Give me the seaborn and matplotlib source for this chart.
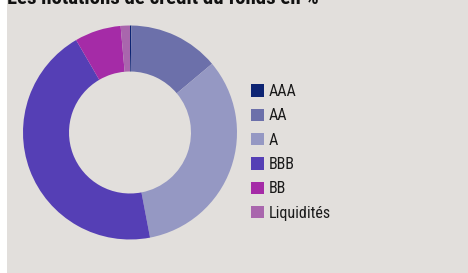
import matplotlib
matplotlib.use("Agg")
import matplotlib.pyplot as plt
import seaborn as sns
from matplotlib import font_manager
from matplotlib.patches import Patch, Rectangle

sns.set_theme(style="white")

# police etroite si disponible
noms = {f.name for f in font_manager.fontManager.ttflist}
etroite = None
for n in ['Liberation Sans Narrow', 'DejaVu Sans Condensed', 'Roboto Condensed',
          'Open Sans Condensed', 'Noto Sans Condensed', 'Roboto', 'Inter']:
    if n in noms:
        etroite = n
        break
plt.rcParams['font.family'] = [etroite, 'DejaVu Sans'] if etroite else ['DejaVu Sans']
stretch = 'condensed'

# donnees
categories = ['AAA', 'AA', 'A', 'BBB', 'BB', 'Liquidités']
valeurs = [0.2, 13.7, 33.1, 44.6, 7.0, 1.4]
couleurs = ['#0d2473', '#6c70aa', '#9598c3', '#553fb5', '#a52ba7', '#a966ad']
titre = 'Les notations de crédit du fonds en %'

fond = '#e2dfdc'
W, H = 468, 273
fig = plt.figure(figsize=(W / 100, H / 100), dpi=100)
fig.patch.set_facecolor(fond)
fig.patches.append(Rectangle((0, 0), 7 / W, 1, transform=fig.transFigure,
                             facecolor='white', edgecolor='none', zorder=0))

# donut
cx, cy, r = 130, 132.5, 107
ax = fig.add_axes([(cx - r) / W, (H - cy - r) / H, 2 * r / W, 2 * r / H])
ax.pie(valeurs, colors=couleurs, startangle=90, counterclock=False,
       wedgeprops=dict(width=0.43, edgecolor='none', linewidth=0))
ax.set_xlim(-1, 1)
ax.set_ylim(-1, 1)
ax.set_aspect('auto')
ax.axis('off')

# legende
handles = [Patch(facecolor=c, edgecolor='none') for c in couleurs]
leg = fig.legend(handles, categories, loc='upper left',
                 bbox_to_anchor=(251 / W, 1 - 84 / H), frameon=False,
                 prop=dict(size=11.5, stretch=stretch),
                 handlelength=0.8, handleheight=0.8,
                 handletextpad=0.3, labelspacing=0.585, borderpad=0,
                 borderaxespad=0)
for t in leg.get_texts():
    t.set_color('#1a1a1a')

# titre coupe en haut
fig.text(7 / W, 1 - 3.5 / H, titre, fontsize=15, fontweight='bold',
         fontstretch=stretch, color='#111111', ha='left', va='baseline')

fig.savefig('out.png', dpi=100, facecolor=fig.get_facecolor())
